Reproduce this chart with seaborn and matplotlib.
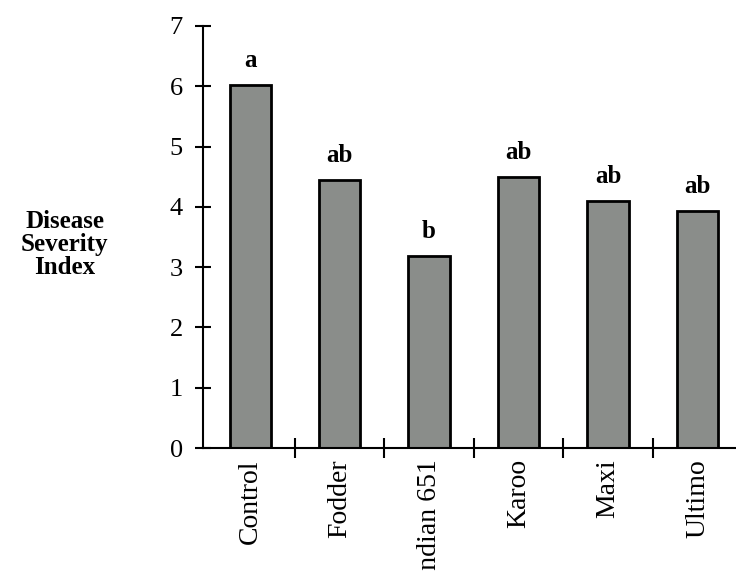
import pandas as pd
import matplotlib
matplotlib.use('Agg')
import matplotlib.pyplot as plt
import seaborn as sns

# Values
cultivars = ['Control', 'Fodder', 'Indian 651', 'Karoo', 'Maxi', 'Ultimo']
severity = [6.02, 4.44, 3.18, 4.49, 4.10, 3.93]
letters = ['a', 'ab', 'b', 'ab', 'ab', 'ab']

df = pd.DataFrame({'Cultivar': cultivars, 'Severity': severity})

sns.set_style('white')
plt.rcParams['font.family'] = ['Liberation Serif', 'DejaVu Serif']
plt.rcParams['text.color'] = 'black'

fig = plt.figure(figsize=(7.36, 5.71), dpi=100)
ax = fig.add_axes([0.276, 0.2154, 0.724, 0.7391])

sns.barplot(data=df, x='Cultivar', y='Severity', color='#8a8d8a', width=0.46,
            edgecolor='black', linewidth=2, saturation=1, ax=ax)

# significance letters above each bar
for i, (v, t) in enumerate(zip(severity, letters)):
    ax.text(i, v + 0.3, t, ha='center', va='baseline', color='black',
            fontsize=18, fontweight='bold')

ax.set_ylim(0, 7)
ax.set_xlim(-0.525, 5.43)
ax.set_yticks(range(8))
ax.set_xticks(range(len(cultivars)))
ax.set_xticklabels(cultivars, rotation=90)
ax.set_xticks([0.5, 1.5, 2.5, 3.5, 4.5], minor=True)

for s in ['top', 'right']:
    ax.spines[s].set_visible(False)
for s in ['left', 'bottom']:
    ax.spines[s].set_linewidth(1.5)
    ax.spines[s].set_color('black')

ax.tick_params(axis='y', direction='inout', length=11.5, width=1.5,
               labelsize=19, pad=9, colors='black', left=True)
ax.tick_params(axis='x', which='major', length=0, labelsize=20, pad=8,
               colors='black', bottom=True)
ax.tick_params(axis='x', which='minor', direction='inout', length=14.5,
               width=1.5, color='black', bottom=True)

ax.set_xlabel('')
ax.set_ylabel('')
fig.text(0.088, 0.571, 'Disease\nSeverity\nIndex', ha='center', va='center',
         color='black', fontsize=18, fontweight='bold', linespacing=1.0)

fig.savefig('out.png', dpi=100)
